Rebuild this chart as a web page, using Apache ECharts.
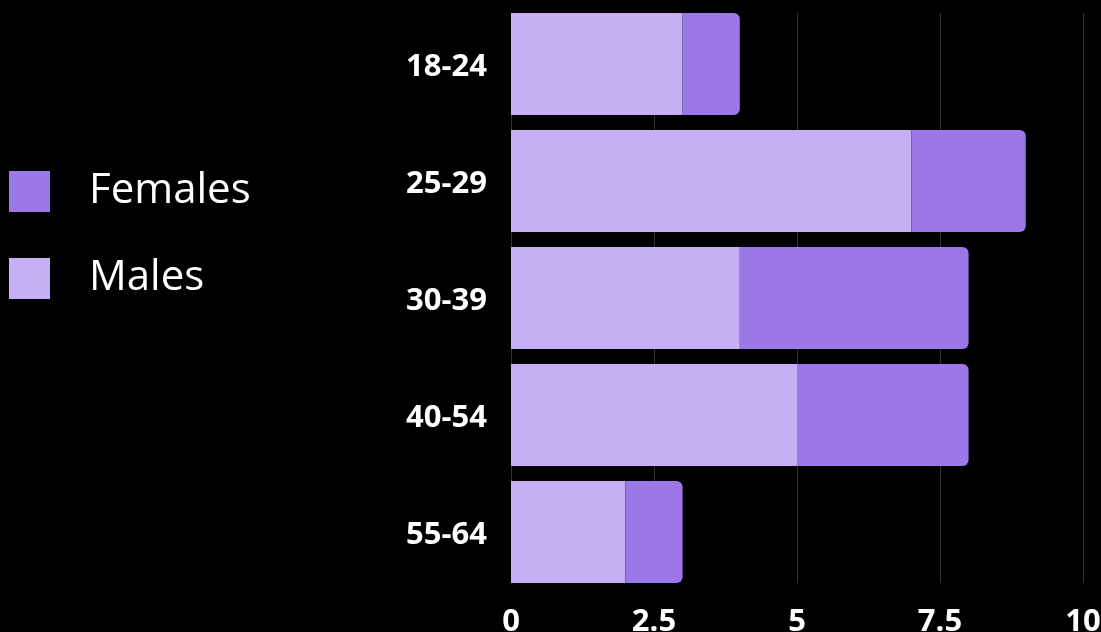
<!DOCTYPE html>
<html>
<head>
<meta charset="utf-8">
<script src="https://cdn.jsdelivr.net/npm/echarts@6/dist/echarts.min.js"></script>
<style>
html,body{margin:0;padding:0;background:#000;}
#c{width:1101px;height:632px;}
</style>
</head>
<body>
<div id="c"></div>
<script>
const categories = ['18-24', '25-29', '30-39', '40-54', '55-64'];
const males = [3, 7, 4, 5, 2];
const females = [1, 2, 4, 3, 1];
const xTicks = [0, 2.5, 5, 7.5, 10];

const chart = echarts.init(document.getElementById('c'));
const font = '"Open Sans", "Noto Sans", sans-serif';
chart.setOption({
  backgroundColor: '#000',
  animation: false,
  legend: {
    data: ['Females', 'Males'],
    orient: 'vertical',
    left: 9,
    top: 167,
    padding: 0,
    itemWidth: 41,
    itemHeight: 41,
    itemGap: 38,
    icon: 'rect',
    textStyle: { color: '#fff', fontSize: 42, fontFamily: font, lineHeight: 41, padding: [8, 0, 0, 34] }
  },
  grid: [
    { left: 511, right: 18, top: 5.5, bottom: 41.5, outerBoundsMode: 'none', containLabel: false },
    { left: 511, right: 18, top: 13, bottom: 49, outerBoundsMode: 'none', containLabel: false }
  ],
  xAxis: [
    {
      type: 'value', gridIndex: 0, min: 0, max: 10, interval: 2.5,
      axisLine: { show: false }, axisTick: { show: false },
      splitLine: { show: false },
      axisLabel: {
        color: '#fff', fontSize: 31, fontWeight: 'bold', fontFamily: font, margin: 16,
        formatter: v => xTicks.includes(v) ? String(v) : ''
      }
    },
    {
      type: 'value', gridIndex: 1, min: 0, max: 10, interval: 2.5,
      axisLine: { show: false }, axisTick: { show: false }, axisLabel: { show: false },
      splitLine: { show: true, lineStyle: { color: '#333', width: 1 } }
    }
  ],
  yAxis: [
    {
      type: 'category', gridIndex: 0, data: categories, inverse: true,
      axisLine: { show: false }, axisTick: { show: false },
      axisLabel: {
        margin: 24,
        formatter: v => '{a|' + v + '}',
        rich: { a: { color: '#fff', fontSize: 31, fontWeight: 'bold', fontFamily: font, padding: [6, 0, 0, 0] } }
      }
    },
    { type: 'category', gridIndex: 1, data: categories, show: false }
  ],
  series: [
    {
      name: 'Males', type: 'bar', stack: 'total', data: males,
      xAxisIndex: 0, yAxisIndex: 0,
      barCategoryGap: '12.8%',
      itemStyle: { color: '#c6b0f4' }
    },
    {
      name: 'Females', type: 'bar', stack: 'total', data: females,
      xAxisIndex: 0, yAxisIndex: 0,
      barCategoryGap: '12.8%',
      itemStyle: { color: '#9b77e8', borderRadius: [0, 6, 6, 0] }
    }
  ]
});
</script>
</body>
</html>
